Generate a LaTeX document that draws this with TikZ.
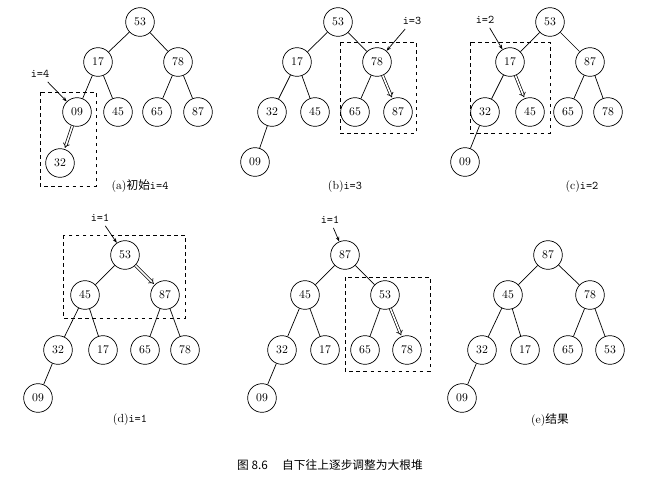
\documentclass[tikz,border=0pt]{standalone}
\usepackage{fontspec}
\newfontfamily\cjk{Noto Sans CJK SC}
\usetikzlibrary{arrows.meta}
\begin{document}
\begin{tikzpicture}[x=0.03cm, y=-0.03cm, line width=0.6pt,
        every node/.style = {font=\normalsize},
        key/.style = {shape=circle, draw, inner sep=0pt, minimum size=0.86cm},
        frame/.style = {draw, dashed},
        swap/.style = {double, double distance=1.4pt, -{Implies}, shorten >=1pt},
        pointer/.style = {-{Stealth[length=4pt]}}]
    \useasboundingbox (0,0) rectangle (663,492);
    % (a)
    \node[key] (a53) at (140,22) {53};
    \node[key] (a17) at (98,62) {17};
    \node[key] (a78) at (178,62) {78};
    \node[key] (a09) at (77,112) {09};
    \node[key] (a45) at (118,112) {45};
    \node[key] (a65) at (157,112) {65};
    \node[key] (a87) at (198,112) {87};
    \node[key] (a32) at (60,163) {32};
    \foreach \p/\c in {a53/a17, a53/a78, a17/a09, a17/a45, a78/a65, a78/a87}
        \draw (\p) -- (\c);
    \draw[swap] (a09) -- (a32);
    \draw[frame] (40,92) rectangle (96,186);
    \node (ia) at (40,74) {\texttt{i=4}};
    \draw[pointer] (ia) -- (a09);
    \node (ca) at (140,186) {(a)\cjk{初始}\texttt{i=4}};
    % (b)
    \node[key] (b53) at (338,22) {53};
    \node[key] (b17) at (297,62) {17};
    \node[key] (b78) at (377,62) {78};
    \node[key] (b32) at (272,112) {32};
    \node[key] (b45) at (315,112) {45};
    \node[key] (b65) at (355,112) {65};
    \node[key] (b87) at (398,112) {87};
    \node[key] (b09) at (255,162) {09};
    \foreach \p/\c in {b53/b17, b53/b78, b17/b32, b17/b45, b78/b65, b32/b09}
        \draw (\p) -- (\c);
    \draw[swap] (b78) -- (b87);
    \draw[frame] (340,42) rectangle (416,133);
    \node (ib) at (412,21) {\texttt{i=3}};
    \draw[pointer] (ib) -- (b78);
    \node (cb) at (345,187) {(b)\texttt{i=3}};
    % (c)
    \node[key] (c53) at (550,22) {53};
    \node[key] (c17) at (510,62) {17};
    \node[key] (c87) at (590,62) {87};
    \node[key] (c32) at (485,112) {32};
    \node[key] (c45) at (530,112) {45};
    \node[key] (c65) at (568,112) {65};
    \node[key] (c78) at (608,112) {78};
    \node[key] (c09) at (465,162) {09};
    \foreach \p/\c in {c53/c17, c53/c87, c17/c32, c87/c65, c87/c78, c32/c09}
        \draw (\p) -- (\c);
    \draw[swap] (c17) -- (c45);
    \draw[frame] (470,42) rectangle (550,133);
    \node (ic) at (485,20) {\texttt{i=2}};
    \draw[pointer] (ic) -- (c17);
    \node (cc) at (582,187) {(c)\texttt{i=2}};
    % (d)
    \node[key] (d53) at (125,255) {53};
    \node[key] (d45) at (85,295) {45};
    \node[key] (d87) at (165,295) {87};
    \node[key] (d32) at (58,350) {32};
    \node[key] (d17) at (103,350) {17};
    \node[key] (d65) at (145,350) {65};
    \node[key] (d78) at (185,350) {78};
    \node[key] (d09) at (38,398) {09};
    \foreach \p/\c in {d53/d45, d45/d32, d45/d17, d87/d65, d87/d78, d32/d09}
        \draw (\p) -- (\c);
    \draw[swap] (d53) -- (d87);
    \draw[frame] (63,235) rectangle (185,318);
    \node (id) at (100,218) {\texttt{i=1}};
    \draw[pointer] (id) -- (d53);
    \node (cd) at (130,420) {(d)\texttt{i=1}};
    % (d) continued
    \node[key] (m87) at (345,255) {87};
    \node[key] (m45) at (305,295) {45};
    \node[key] (m53) at (385,295) {53};
    \node[key] (m32) at (282,350) {32};
    \node[key] (m17) at (325,350) {17};
    \node[key] (m65) at (365,350) {65};
    \node[key] (m78) at (407,350) {78};
    \node[key] (m09) at (262,398) {09};
    \foreach \p/\c in {m87/m45, m87/m53, m45/m32, m45/m17, m53/m65, m32/m09}
        \draw (\p) -- (\c);
    \draw[swap] (m53) -- (m78);
    \draw[frame] (345,277) rectangle (430,371);
    \node (im) at (330,220) {\texttt{i=1}};
    \draw[pointer] (im) -- (m87);
    % (e)
    \node[key] (e87) at (548,255) {87};
    \node[key] (e45) at (508,295) {45};
    \node[key] (e78) at (590,295) {78};
    \node[key] (e32) at (482,350) {32};
    \node[key] (e17) at (525,350) {17};
    \node[key] (e65) at (568,350) {65};
    \node[key] (e53) at (610,350) {53};
    \node[key] (e09) at (462,398) {09};
    \foreach \p/\c in {e87/e45, e87/e78, e45/e32, e45/e17, e78/e65, e78/e53, e32/e09}
        \draw (\p) -- (\c);
    \node (ce) at (550,420) {(e)\cjk{结果}};
    % figure caption
    \node (fig) at (330,465) {\cjk{图} 8.6\quad\ \cjk{自下往上逐步调整为大根堆}};
\end{tikzpicture}
\end{document}
